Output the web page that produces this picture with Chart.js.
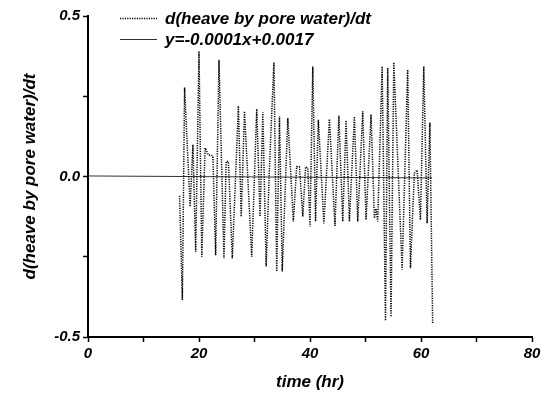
<!DOCTYPE html>
<html>
<head>
<meta charset="utf-8">
<script src="https://cdn.jsdelivr.net/npm/chart.js@4.4.0/dist/chart.umd.min.js"></script>
<style>
  body { margin: 0; background: #fff; }
  #wrap { width: 549px; height: 397px; }
</style>
</head>
<body>
<div id="wrap"><canvas id="heaveChart" width="549" height="397"></canvas></div>
<script>
// time in hours and d(heave by pore water)/dt
const timeHr = [16.5, 17.0, 17.4, 18.4, 18.9, 19.4, 20.0, 20.5, 21.1, 21.7, 22.5, 23.0, 23.6, 24.5, 24.9, 25.3,
  26.0, 27.1, 27.6, 28.2, 29.5, 30.4, 31.0, 31.5, 32.1, 32.7, 33.5, 34.0, 34.5, 35.0, 36.0, 37.0, 37.6, 38.1,
  38.7, 39.2, 39.6, 40.0, 40.5, 41.0, 41.5, 42.5, 43.5, 44.5, 45.2, 45.9, 46.5, 47.1, 48.0, 48.6, 49.5, 50.1,
  51.0, 51.6, 51.9, 52.2, 53.0, 53.6, 54.0, 54.6, 55.1, 56.6, 57.6, 58.1, 58.8, 59.3, 59.9, 60.5, 61.1, 61.6, 62.1];
const heaveRate = [-0.06, -0.385, 0.277, -0.094, 0.099, -0.234, 0.39, -0.25, 0.089, 0.067, 0.064, -0.245, 0.364, -0.255, 0.047, 0.047,
  -0.255, 0.22, -0.125, 0.203, -0.25, 0.21, -0.125, 0.2, -0.28, 0.03, 0.356, -0.296, 0.187, -0.296, 0.182, -0.14, 0.031, 0.03,
  -0.125, 0.03, 0.027, -0.156, 0.343, -0.14, 0.177, -0.146, 0.179, -0.154, 0.19, -0.14, 0.175, -0.14, 0.187, -0.14, 0.203, -0.135,
  0.193, -0.13, -0.1, -0.14, 0.343, -0.449, 0.338, -0.437, 0.356, -0.29, 0.333, -0.286, 0.01, 0.02, -0.135, 0.343, -0.146, 0.168, -0.457];

// linear fit y=-0.0001x+0.0017, end points
const fitX = [0, 62];
const fitY = [0.0017, -0.0045];

const seriesNames = ["d(heave by pore water)/dt", "y=-0.0001x+0.0017"];
const xTicks = [0, 20, 40, 60, 80];
const yTicks = [-0.5, 0, 0.5];

const FONT = "'Liberation Sans', Arial, sans-serif";

function toPoints(xs, ys) {
  let pts = [];
  for (let i = 0; i < xs.length; i++) pts.push({ x: xs[i], y: ys[i] });
  return pts;
}

// legend drawn inside the plot, top left
const insideLegend = {
  id: "insideLegend",
  afterDraw(chart) {
    const ctx = chart.ctx;
    const rows = [18, 39];
    ctx.save();
    chart.data.datasets.forEach((ds, i) => {
      const y = rows[i];
      ctx.beginPath();
      ctx.strokeStyle = ds.borderColor;
      ctx.lineWidth = ds.borderWidth;
      ctx.setLineDash(ds.borderDash || []);
      ctx.moveTo(120, y + 0.5);
      ctx.lineTo(157, y + 0.5);
      ctx.stroke();
      ctx.setLineDash([]);
      ctx.fillStyle = "#000";
      ctx.font = "italic bold 17px " + FONT;
      ctx.textBaseline = "middle";
      ctx.fillText(ds.label, 165, y + 1);
    });
    ctx.restore();
  }
};

new Chart(document.getElementById("heaveChart"), {
  type: "line",
  data: {
    datasets: [
      {
        label: seriesNames[0],
        data: toPoints(timeHr, heaveRate),
        borderColor: "#000",
        borderWidth: 1.5,
        borderDash: [1.2, 1.2],
        pointRadius: 0,
        tension: 0,
        fill: false
      },
      {
        label: seriesNames[1],
        data: toPoints(fitX, fitY),
        borderColor: "#333",
        borderWidth: 1,
        pointRadius: 0,
        fill: false
      }
    ]
  },
  options: {
    responsive: false,
    animation: false,
    layout: { padding: { top: 16, right: 17, left: 0, bottom: 0 } },
    plugins: {
      legend: { display: false },
      tooltip: { enabled: false }
    },
    scales: {
      x: {
        type: "linear",
        min: 0,
        max: 80,
        afterFit: (s) => { s.height = 60; },
        border: { color: "#000", width: 2 },
        grid: { drawOnChartArea: false, drawTicks: true, tickLength: 5, tickColor: "#000", tickWidth: 1.5 },
        ticks: {
          stepSize: 10,
          padding: 3,
          color: "#000",
          font: { family: FONT, size: 15, weight: "bold", style: "italic" },
          callback: (v) => xTicks.includes(v) ? String(v) : ""
        },
        title: {
          display: true,
          text: "time (hr)",
          color: "#000",
          font: { family: FONT, size: 17, weight: "bold", style: "italic" },
          padding: { top: 0, bottom: 4 }
        }
      },
      y: {
        min: -0.5,
        max: 0.5,
        afterFit: (s) => { s.width = 88; },
        border: { color: "#000", width: 2 },
        grid: { drawOnChartArea: false, drawTicks: true, tickLength: 5, tickColor: "#000", tickWidth: 1.5 },
        ticks: {
          stepSize: 0.25,
          padding: 3,
          color: "#000",
          font: { family: FONT, size: 15, weight: "bold", style: "italic" },
          callback: (v) => yTicks.includes(v) ? v.toFixed(1) : ""
        },
        title: {
          display: true,
          text: seriesNames[0],
          color: "#000",
          font: { family: FONT, size: 17, weight: "bold", style: "italic" },
          padding: { top: 20, bottom: 0 }
        }
      }
    }
  },
  plugins: [insideLegend]
});
</script>
</body>
</html>
